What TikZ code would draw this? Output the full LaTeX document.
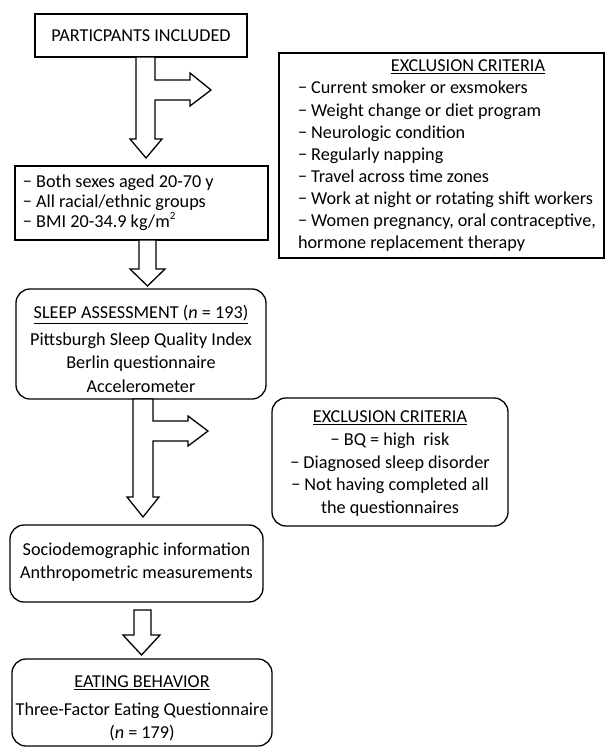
\documentclass[tikz,border=0pt]{standalone}
\usepackage{fontspec}
\setmainfont{Carlito}
\begin{document}
\begin{tikzpicture}[x=1pt,y=-1pt,
  boxline/.style={draw=black, line width=1.3pt, inner sep=0pt, outer sep=0pt},
  sqbox/.style={boxline},
  rbox/.style={boxline, rounded corners=14pt},
  txt/.style={inner sep=0pt, outer sep=0pt, font=\fontsize{18.2}{22}\selectfont},
  ltxt/.style={txt, anchor=base west},
  ctxt/.style={txt, anchor=base},
  blk/.style={draw=black, line width=1.3pt, fill=white, line join=miter}]
\useasboundingbox (0,0) rectangle (606,747);

% boxes
\node[sqbox, minimum width=212, minimum height=43] (inc) at (141,35.5) {};
\node[sqbox, minimum width=325, minimum height=205] (ex1) at (441.5,155.5) {};
\node[sqbox, minimum width=253, minimum height=74] (crit) at (141.5,203) {};
\node[rbox, minimum width=250, minimum height=110] (sleep) at (141,344) {};
\node[rbox, minimum width=236, minimum height=128] (ex2) at (390,462) {};
\node[rbox, minimum width=253, minimum height=77] (socio) at (136.5,563.5) {};
\node[rbox, minimum width=260, minimum height=87] (eat) at (142,702.5) {};

% box texts
\node[ctxt] (incT) at (141,41.8) {PARTICPANTS INCLUDED};

\node[ctxt] (ex1T) at (468,71.8) {\underline{EXCLUSION CRITERIA}};
\node[ltxt] (ex1a) at (298,93.9) {− Current smoker or exsmokers};
\node[ltxt] (ex1b) at (298,116.0) {− Weight change or diet program};
\node[ltxt] (ex1c) at (298,138.1) {− Neurologic condition};
\node[ltxt] (ex1d) at (298,160.2) {− Regularly napping};
\node[ltxt] (ex1e) at (298,182.3) {− Travel across time zones};
\node[ltxt] (ex1f) at (298,204.4) {− Work at night or rotating shift workers};
\node[ltxt] (ex1g) at (298,226.5) {− Women pregnancy, oral contraceptive,};
\node[ltxt] (ex1h) at (298,248.6) {hormone replacement therapy};

\node[ltxt] (crA) at (23,187.5) {− Both sexes aged 20-70 y};
\node[ltxt] (crB) at (23,207.5) {− All racial/ethnic groups};
\node[ltxt] (crC) at (23,227.5) {− BMI 20-34.9 kg/m\raisebox{0.45em}{\fontsize{11}{11}\selectfont 2}};

\node[ctxt] (slT) at (141,318.8) {\underline{SLEEP ASSESSMENT (\textit{n} = 193)}};
\node[ctxt] (slA) at (141,345.5) {Pittsburgh Sleep Quality Index};
\node[ctxt] (slB) at (141,368.5) {Berlin questionnaire};
\node[ctxt] (slC) at (141,392.5) {Accelerometer};

\node[ctxt] (ex2T) at (390,422.8) {\underline{EXCLUSION CRITERIA}};
\node[ctxt] (ex2a) at (390,445.5) {− BQ = high\ \ risk};
\node[ctxt] (ex2b) at (390,468.5) {− Diagnosed sleep disorder};
\node[ctxt] (ex2c) at (390,490.5) {− Not having completed all};
\node[ctxt] (ex2d) at (390,513.5) {the questionnaires};

\node[ctxt] (soA) at (136.5,555.5) {Sociodemographic information};
\node[ctxt] (soB) at (136.5,578.5) {Anthropometric measurements};

\node[ctxt] (eaT) at (142,687.8) {\underline{EATING BEHAVIOR}};
\node[ctxt] (eaA) at (142,715.5) {Three-Factor Eating Questionnaire};
\node[ctxt] (eaB) at (142,738.5) {(\textit{n} = 179)};

% block arrows
\draw[blk] (136,57) -- (136,139) -- (130,139) -- (146,158) -- (162,139) -- (155,139)
  -- (155,100) -- (190,100) -- (190,106) -- (211,90) -- (190,73) -- (190,80)
  -- (155,80) -- (155,57) -- cycle;
\draw[blk] (139,240) -- (139,269) -- (130,269) -- (147.5,286) -- (165,269)
  -- (156,269) -- (156,240) -- cycle;
\draw[blk] (133,399) -- (133,497) -- (127,497) -- (143,517) -- (159,497) -- (153,497)
  -- (153,441) -- (188,441) -- (188,446) -- (208,431) -- (188,416) -- (188,421)
  -- (153,421) -- (153,399) -- cycle;
\draw[blk] (134,610) -- (134,635) -- (123,635) -- (141.5,655) -- (160,635)
  -- (151,635) -- (151,610) -- cycle;
\end{tikzpicture}
\end{document}
